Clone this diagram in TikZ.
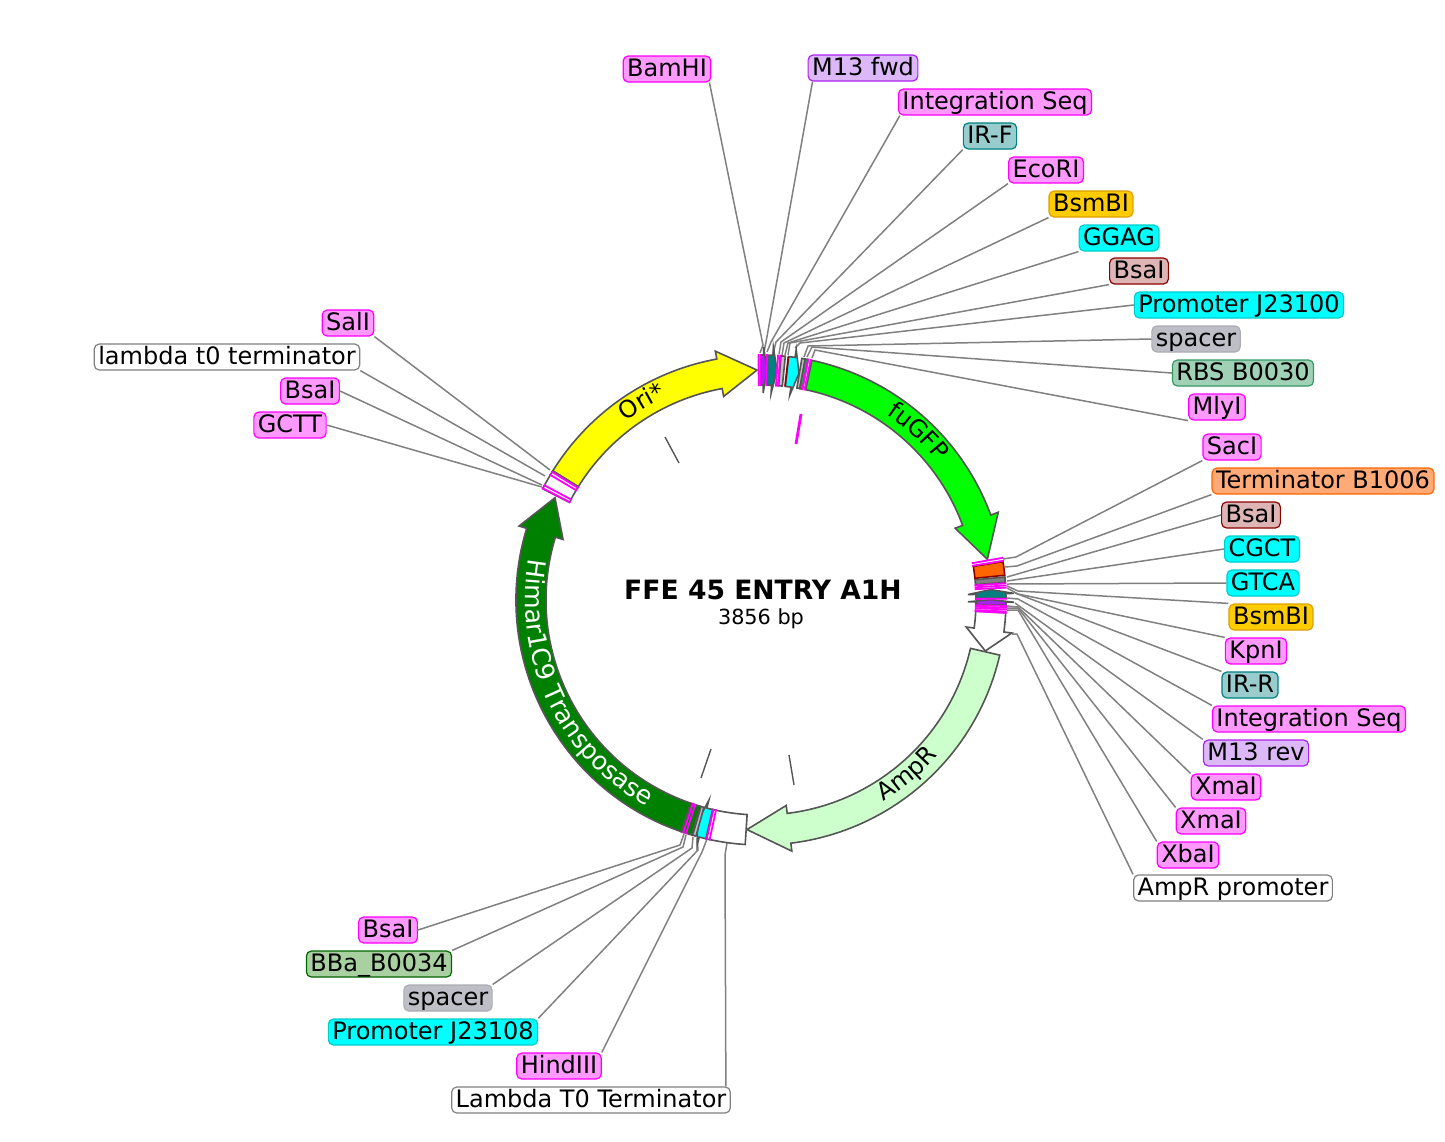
\documentclass[tikz,border=0pt]{standalone}
\usepackage{fontspec}
\usepackage{xcolor}
\usetikzlibrary{decorations.text}
\setmainfont{DejaVu Sans}
\definecolor{sitepink}{HTML}{FF99FF}
\definecolor{siteline}{HTML}{FF00FF}
\definecolor{leadgray}{HTML}{808080}
\definecolor{edgegray}{HTML}{555555}
\definecolor{spacergray}{HTML}{BEBEC6}
\definecolor{mpurple}{HTML}{AA22EE}
\definecolor{mpale}{HTML}{DDB8F8}
\definecolor{brickred}{HTML}{8B0000}
\definecolor{bsapale}{HTML}{DDB5B5}
\definecolor{cyanpart}{HTML}{00FFFF}
\definecolor{cyanedge}{HTML}{00CCCC}
\definecolor{yellowpart}{HTML}{FFFF00}
\definecolor{greenpart}{HTML}{00FF00}
\definecolor{darkgreen}{HTML}{008000}
\definecolor{palegreen}{HTML}{CCFFCC}
\definecolor{tealpart}{HTML}{008080}
\definecolor{tealpale}{HTML}{99CCCC}
\definecolor{bsmpale}{HTML}{FFCC00}
\definecolor{bsmedge}{HTML}{DDA000}
\definecolor{termpale}{HTML}{FFAA77}
\definecolor{termpart}{HTML}{FF6600}
\definecolor{rbspale}{HTML}{A0D0B5}
\definecolor{rbsedge}{HTML}{339966}
\definecolor{bbapale}{HTML}{A8D0A0}
\definecolor{bbaedge}{HTML}{006600}
\newcommand{\ringseg}[3]{\draw[#1] (#2:245) arc[start angle=#2,end angle=#3,radius=245] -- (#3:215) arc[start angle=#3,end angle=#2,radius=215] -- cycle;}
\newcommand{\ringarrow}[4]{\draw[#1] (#2:245) arc[start angle=#2,end angle=#3,radius=245] -- (#3:253) -- (#4:230) -- (#3:207) -- (#3:215) arc[start angle=#3,end angle=#2,radius=215] -- cycle;}
\newcommand{\arclab}{\fontsize{12}{14}\selectfont}
\tikzset{
  lab/.style={draw,rounded corners=2.5pt,line width=.6pt,inner xsep=2pt,inner ysep=0pt,minimum height=13pt,text height=9.5pt,text depth=1.7pt,font=\fontsize{12}{14}\selectfont,text=black},
  pinklab/.style={lab,draw=siteline,fill=sitepink},
  cyanlab/.style={lab,draw=cyanedge,fill=cyanpart},
  whitelab/.style={lab,draw=gray,fill=white},
  bsalab/.style={lab,draw=brickred,fill=bsapale},
  orglab/.style={lab,draw=bsmedge,fill=bsmpale},
  purplab/.style={lab,draw=mpurple,fill=mpale},
  teallab/.style={lab,draw=tealpart,fill=tealpale},
  spacerlab/.style={lab,draw=spacergray!90!black,fill=spacergray},
  lead/.style={draw=leadgray,line width=.75pt},
  part/.style={draw=edgegray,line width=.8pt},
  site/.style={draw=siteline,line width=.9pt},
  tick/.style={draw=edgegray,line width=.7pt}
}
\begin{document}
\begin{tikzpicture}[x=.5pt,y=.5pt]
\useasboundingbox (0,0) rectangle (1445,-1141);
\node[pinklab] (bamhi) at (667,-69) {BamHI};
\node[purplab] (mfwd) at (863,-68) {M13 fwd};
\node[pinklab] (intf) at (995,-102) {Integration Seq};
\node[teallab] (irf) at (990,-136) {IR-F};
\node[pinklab] (ecori) at (1046,-170) {EcoRI};
\node[orglab] (bsmbiA) at (1091,-204) {BsmBI};
\node[cyanlab] (ggag) at (1119,-238) {GGAG};
\node[bsalab] (bsaiA) at (1139,-271) {BsaI};
\node[cyanlab] (promA) at (1239,-305) {Promoter J23100};
\node[spacerlab] (spacerA) at (1196,-339) {spacer};
\node[lab,draw=rbsedge,fill=rbspale] (rbs) at (1243,-373) {RBS B0030};
\node[pinklab] (mlyi) at (1217,-407) {MlyI};
\node[pinklab] (saci) at (1232,-447) {SacI};
\node[lab,draw=termpart,fill=termpale] (term) at (1323,-481) {Terminator B1006};
\node[bsalab] (bsaiB) at (1251,-515) {BsaI};
\node[cyanlab] (cgct) at (1262,-549) {CGCT};
\node[cyanlab] (gtca) at (1263,-583) {GTCA};
\node[orglab] (bsmbiB) at (1271,-617) {BsmBI};
\node[pinklab] (kpni) at (1256,-651) {KpnI};
\node[teallab] (irr) at (1250,-685) {IR-R};
\node[pinklab] (intr) at (1309,-719) {Integration Seq};
\node[purplab] (mrev) at (1256,-753) {M13 rev};
\node[pinklab] (xmaA) at (1226,-787) {XmaI};
\node[pinklab] (xmaB) at (1211,-821) {XmaI};
\node[pinklab] (xbai) at (1188,-855) {XbaI};
\node[whitelab] (amppro) at (1233,-888) {AmpR promoter};
\node[pinklab] (sali) at (348,-323) {SalI};
\node[whitelab] (ltz) at (227,-357) {lambda t0 terminator};
\node[pinklab] (bsaiC) at (310,-391) {BsaI};
\node[pinklab] (gctt) at (290,-425) {GCTT};
\node[pinklab] (bsaiD) at (388,-930) {BsaI};
\node[lab,draw=bbaedge,fill=bbapale] (bba) at (379,-964) {BBa\_B0034};
\node[spacerlab] (spacerB) at (448,-998) {spacer};
\node[cyanlab] (promB) at (433,-1032) {Promoter J23108};
\node[pinklab] (hind) at (559,-1066) {HindIII};
\node[whitelab] (lamb) at (591,-1100) {Lambda T0 Terminator};
\node[font=\fontsize{13.3}{16}\bfseries] (title) at (763,-590) {FFE 45 ENTRY A1H};
\node[font=\fontsize{10.4}{12}\selectfont] (size) at (761,-619) {3856 bp};
\coordinate (bamhiF) at (760,-353);
\coordinate (mfwdF) at (764,-352);
\coordinate (intfF) at (767,-352);
\coordinate (irfF) at (773,-354);
\coordinate (ecoriF) at (779,-354);
\coordinate (bsmbiAF) at (782,-355);
\coordinate (ggagF) at (785,-355);
\coordinate (bsaiAF) at (788,-355);
\coordinate (promAF) at (795,-348);
\coordinate (spacerAF) at (804,-357);
\coordinate (rbsF) at (807,-357);
\coordinate (mlyiF) at (812,-358);
\coordinate (saciF) at (1003,-559);
\coordinate (termF) at (1005,-567);
\coordinate (bsaiBF) at (1007,-577);
\coordinate (cgctF) at (1007,-581);
\coordinate (gtcaF) at (1007,-584);
\coordinate (bsmbiBF) at (1007,-586);
\coordinate (kpniF) at (1007,-588);
\coordinate (irrF) at (1015,-593);
\coordinate (intrF) at (1007,-598);
\coordinate (mrevF) at (1015,-603);
\coordinate (xmaAF) at (1007,-606);
\coordinate (xmaBF) at (1007,-608);
\coordinate (xbaiF) at (1007,-610);
\coordinate (ampproF) at (1012,-634);
\coordinate (saliF) at (550,-470);
\coordinate (ltzF) at (545,-476);
\coordinate (bsaiCF) at (542,-485);
\coordinate (gcttF) at (542,-487);
\coordinate (bsaiDF) at (684,-834);
\coordinate (bbaF) at (686,-835);
\coordinate (spacerBF) at (693,-837);
\coordinate (promBF) at (697,-838);
\coordinate (hindF) at (707,-839);
\coordinate (lambF) at (727,-843);
\draw[lead] ([xshift=-1pt]bamhi.south east) -- (763,-345) -- (bamhiF);
\draw[lead] ([xshift=2.5pt]mfwd.south west) -- (766,-342) -- (mfwdF);
\draw[lead] ([xshift=1pt]intf.south west) -- (771,-342) -- (intfF);
\draw[lead] (irf.south west) -- (776,-342) -- (irfF);
\draw[lead] (ecori.south west) -- (781,-342) -- (ecoriF);
\draw[lead] (bsmbiA.south west) -- (784,-343) -- (bsmbiAF);
\draw[lead] (ggag.south west) -- (788,-343) -- (ggagF);
\draw[lead] (bsaiA.south west) -- (790,-343) -- (bsaiAF);
\draw[lead] (promA.west) -- (800,-343) -- (promAF);
\draw[lead] (spacerA.west) -- (808,-346) -- (spacerAF);
\draw[lead] (rbs.west) -- (812,-347) -- (rbsF);
\draw[lead] (mlyi.south west) -- (815,-350) -- (mlyiF);
\draw[lead] (saci.south west) -- (1016,-557) -- (saciF);
\draw[lead] (term.south west) -- (1017,-566) -- (termF);
\draw[lead] (bsaiB.west) -- (bsaiBF);
\draw[lead] (cgct.west) -- (cgctF);
\draw[lead] (gtca.west) -- (gtcaF);
\draw[lead] (bsmbiB.north west) -- (1018,-591) -- (bsmbiBF);
\draw[lead] (kpni.north west) -- (1018,-594) -- (kpniF);
\draw[lead] (irr.north west) -- (irrF);
\draw[lead] (intr.north west) -- (1018,-599) -- (intrF);
\draw[lead] (mrev.north west) -- (mrevF);
\draw[lead] (xmaA.north west) -- (1018,-607) -- (xmaAF);
\draw[lead] (xmaB.north west) -- (1018,-608) -- (xmaBF);
\draw[lead] (xbai.north west) -- (1018,-610) -- (xbaiF);
\draw[lead] (amppro.north west) -- (1017,-634) -- (ampproF);
\draw[lead] (sali.south east) -- (saliF);
\draw[lead] (ltz.south east) -- (ltzF);
\draw[lead] (bsaiC.east) -- (bsaiCF);
\draw[lead] (gctt.east) -- (gcttF);
\draw[lead] (bsaiD.east) -- (680,-845) -- (bsaiDF);
\draw[lead] (bba.north east) -- (683,-847) -- (bbaF);
\draw[lead] (spacerB.north east) -- (692,-848) -- (spacerBF);
\draw[lead] (promB.north east) -- (698,-850) -- (promBF);
\draw[lead] (hind.north east) -- (702,-852) -- (hindF);
\draw[lead] ([xshift=-2.5pt]lamb.north east) -- (725,-855) -- (lambF);
\draw[tick] (665,-437) -- (679,-463);
\draw[site,line width=1.4pt] (801,-414) -- (796,-444);
\draw[tick] (711,-749) -- (701,-778);
\draw[tick] (789,-755) -- (794,-785);
\begin{scope}[shift={(761,-600)}]
\ringarrow{part,fill=yellowpart}{148.2}{100.4}{91}
\ringarrow{part,fill=greenpart}{78}{20.3}{10.2}
\ringarrow{part,fill=darkgreen}{251}{163}{153.6}
\ringarrow{part,fill=palegreen}{-13}{-83}{-93.5}
\ringarrow{part,fill=white}{-3}{-7.5}{-12.8}
\ringseg{part,fill=white}{148.2}{153}
\ringseg{part,fill=white}{257}{266.3}
\ringarrow{part,fill=cyanpart}{257}{255.4}{254}
\ringseg{part,fill=darkgreen}{251}{253.6}
\ringseg{part,fill=spacergray}{253.8}{254.6}
\ringarrow{part,fill=mpurple}{90}{89.4}{88.5}
\ringarrow{part,fill=tealpart}{88.4}{87.2}{86}
\ringseg{part,fill=spacergray}{85.3}{84.3}
\ringarrow{part,fill=cyanpart}{83.5}{82}{80.5}
\ringseg{part,fill=spacergray}{80.4}{79.6}
\ringseg{part,fill=rbsedge}{79.6}{78.9}
\ringseg{draw=brickred,line width=.8pt,fill=termpart}{9}{5.8}
\ringseg{part,fill=gray}{5.4}{4.1}
\ringarrow{part,fill=tealpart}{.4}{1.5}{2.6}
\ringarrow{part,fill=mpurple}{-1.25}{-.5}{.1}
\draw[draw=brickred,line width=.8pt] (83.6:215) -- (83.6:245);
\foreach \a in {148.5,149.3,152.1,152.9,90.6,90.2,88.6,86,85.5,78.9,78.3,9.9,9.2,3.9,3.4,2.9,.3,-1.4,-1.8,-2.2,-2.7,-3,251.5,252.2,257.2,257.9}
  \draw[site] (\a:214) -- (\a:246);
\path[decorate,decoration={text along path,text align=center,text={|\arclab|Ori*}}] (140:224) arc[start angle=140,end angle=102,radius=224];
\path[decorate,decoration={text along path,text align=center,text={|\arclab|fuGFP}}] (70:224) arc[start angle=70,end angle=24,radius=224];
\path[decorate,decoration={text along path,text align=center,text={|\fontsize{12.6}{14}\selectfont\color{white}|Himar1C9 Transposase}}] (164:236) arc[start angle=164,end angle=247,radius=236];
\path[decorate,decoration={text along path,text align=center,text={|\arclab|AmpR}}] (-80:236) arc[start angle=-80,end angle=-20,radius=236];
\end{scope}
\end{tikzpicture}
\end{document}
